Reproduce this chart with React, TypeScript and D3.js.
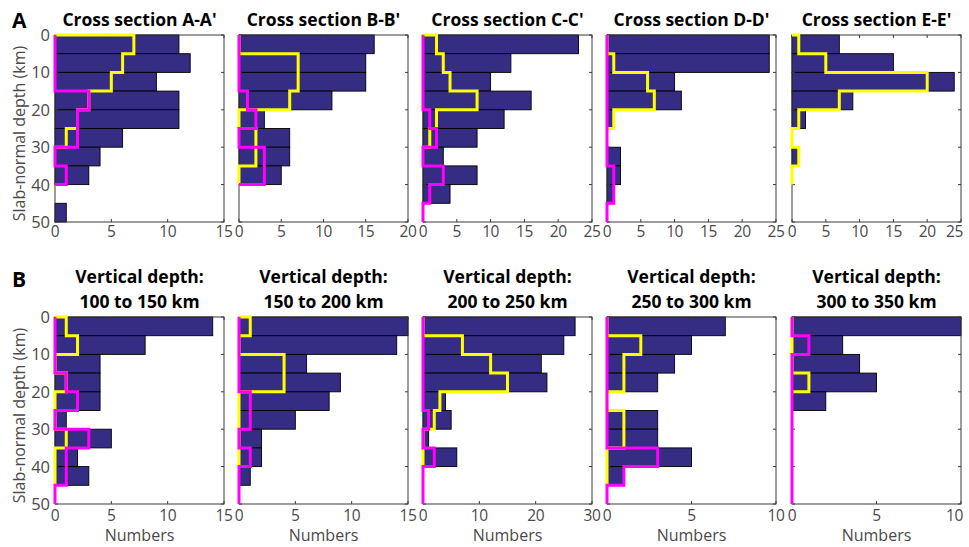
import React from "react";
import * as d3 from "d3";

// ---------- data (counts per 5 km slab-normal depth bin, 0–50 km) ----------
const binEdges = [0, 5, 10, 15, 20, 25, 30, 35, 40, 45, 50];
const depthTicks = [0, 10, 20, 30, 40, 50];

const titlesRow1 = ["Cross section A-A'", "Cross section B-B'", "Cross section C-C'", "Cross section D-D'", "Cross section E-E'"];
const titlesRow2 = ["100 to 150 km", "150 to 200 km", "200 to 250 km", "250 to 300 km", "300 to 350 km"];

const barsAA = [11, 12, 9, 11, 11, 6, 4, 3, 0, 1];
const yellowAA = [7, 6, 5, 3, 2, 1];
const magentaAA = [0, 0, 0, 3, 2, 2, 0, 1];

const barsBB = [16, 15, 15, 11, 3, 6, 6, 5, 0, 0];
const yellowBB = [0, 7, 7, 6, 0, 2, 2, 0];
const magentaBB = [0, 0, 0, 1, 2, 0, 3, 3];

const barsCC = [23, 13, 10, 16, 12, 8, 3, 8, 4, 0];
const yellowCC = [2, 3, 4, 8, 2, 1];
const magentaCC = [0, 0, 0, 0, 1, 2, 0, 3, 1, 0];

const barsDD = [24, 24, 10, 11, 1, 0, 2, 2, 1, 0];
const yellowDD = [0, 1, 6, 7, 1];
const magentaDD = [0, 0, 0, 0, 0, 0, 0, 1, 1, 0];

const barsEE = [7, 15, 24, 9, 2, 0, 1, 0, 0, 0];
const yellowEE = [1, 5, 20, 7, 1, 0, 1, 0];
const magentaEE: number[] = [];

const bars100 = [14, 8, 4, 4, 4, 1, 5, 2, 3, 0];
const yellow100 = [1, 2, 0, 1, 0, 0, 1, 0, 0];
const magenta100 = [0, 0, 0, 1, 2, 0, 3, 1, 1, 0];

const bars150 = [15, 14, 6, 9, 8, 5, 2, 2, 1, 0];
const yellow150 = [1, 0, 4, 4, 0, 0, 0, 0];
const magenta150 = [0, 0, 0, 0, 1, 1, 0, 1, 0, 0];

const bars200 = [27, 25, 21, 22, 4, 5, 1, 6, 0, 0];
const yellow200 = [0, 7, 12, 15, 3, 2, 0, 0];
const magenta200 = [0, 0, 0, 0, 0, 1, 0, 2, 0, 0];

const bars250 = [7, 5, 4, 3, 0, 3, 3, 5, 1, 0];
const yellow250 = [0, 2, 1, 1, 0, 1, 1, 0, 0];
const magenta250 = [0, 0, 0, 0, 0, 0, 0, 3, 1, 0];

const bars300 = [10, 3, 4, 5, 2, 0, 0, 0, 0, 0];
const yellow300 = [0, 0, 0, 1];
const magenta300 = [0, 1, 0, 0, 0, 0, 0, 0, 0, 0];

const xMaxRow1 = [15, 20, 25, 25, 25];
const xMaxRow2 = [15, 15, 30, 10, 10];
const xTicksRow1 = [[0, 5, 10, 15], [0, 5, 10, 15, 20], [0, 5, 10, 15, 20, 25], [0, 5, 10, 15, 20, 25], [0, 5, 10, 15, 20, 25]];
const xTicksRow2 = [[0, 5, 10, 15], [0, 5, 10, 15], [0, 10, 20, 30], [0, 5, 10], [0, 5, 10]];

const barsRow1 = [barsAA, barsBB, barsCC, barsDD, barsEE];
const yellowRow1 = [yellowAA, yellowBB, yellowCC, yellowDD, yellowEE];
const magentaRow1 = [magentaAA, magentaBB, magentaCC, magentaDD, magentaEE];
const barsRow2 = [bars100, bars150, bars200, bars250, bars300];
const yellowRow2 = [yellow100, yellow150, yellow200, yellow250, yellow300];
const magentaRow2 = [magenta100, magenta150, magenta200, magenta250, magenta300];

// ---------- layout ----------
const W = 969;
const H = 547;
const colLefts = [55, 239, 423, 607, 792];
const panelW = 169;
const rowTops = [35, 317];
const rowBottoms = [222, 504];
const tickLabelOffset = [15, 17];

const FONT = "'Open Sans', 'DejaVu Sans', sans-serif";
const BAR = "#352d83";
const YEL = "#ffff00";
const MAG = "#ff00ff";
const AXIS = "#3a3a3a";
const LABEL = "#4a4a4a";
const TICK_FS = 15.5;

function stairs(values: number[], x: d3.ScaleLinear<number, number>, y: d3.ScaleLinear<number, number>) {
  if (!values.length) return null;
  const pts: [number, number][] = [[0, binEdges[0]]];
  values.forEach((v, i) => {
    pts.push([v, binEdges[i]]);
    pts.push([v, binEdges[i + 1]]);
  });
  pts.push([0, binEdges[values.length]]);
  return d3.line<[number, number]>().x((d) => x(d[0])).y((d) => y(d[1]))(pts);
}

function Panel(props: {
  left: number; top: number; bottom: number; xMax: number; xTicks: number[]; labelOff: number;
  bars: number[]; yellow: number[]; magenta: number[]; showY: boolean; xLabel: boolean; lastCol: boolean;
}) {
  const { left, top, bottom, xMax, xTicks, labelOff, bars, yellow, magenta, showY, xLabel, lastCol } = props;
  const x = d3.scaleLinear().domain([0, xMax]).range([left, left + panelW]);
  const y = d3.scaleLinear().domain([0, 50]).range([top, bottom]);
  const tk = 3;
  return (
    <g>
      <rect x={left} y={top} width={panelW} height={bottom - top} fill="#fff" />
      {bars.map((v, i) =>
        v > 0 ? (
          <rect key={i} x={x(0)} y={y(binEdges[i])} width={x(v) - x(0)} height={y(binEdges[i + 1]) - y(binEdges[i])}
            fill={BAR} stroke="#000" strokeWidth={0.9} />
        ) : null
      )}
      <rect x={left} y={top} width={panelW} height={bottom - top} fill="none" stroke={AXIS} strokeWidth={1} />
      {xTicks.map((t, j) => {
        const isEdge = lastCol && j === xTicks.length - 1;
        return (
          <g key={"xt" + t}>
            <line x1={x(t)} x2={x(t)} y1={bottom} y2={bottom - tk} stroke={AXIS} />
            <line x1={x(t)} x2={x(t)} y1={top} y2={top + tk} stroke={AXIS} />
            <text x={isEdge ? x(t) + 2 : x(t)} y={bottom + labelOff} textAnchor={isEdge ? "end" : "middle"}
              fontSize={TICK_FS} letterSpacing={-0.4} fill={LABEL} fontFamily={FONT}>{t}</text>
          </g>
        );
      })}
      {depthTicks.map((t) => (
        <g key={"yt" + t}>
          <line x1={left} x2={left + tk} y1={y(t)} y2={y(t)} stroke={AXIS} />
          <line x1={left + panelW} x2={left + panelW - tk} y1={y(t)} y2={y(t)} stroke={AXIS} />
          {showY ? (
            <text x={left - 5} y={y(t)} dy="0.36em" textAnchor="end" fontSize={16.5} fill={LABEL} fontFamily={FONT}>{t}</text>
          ) : null}
        </g>
      ))}
      <path d={stairs(yellow, x, y) || ""} fill="none" stroke={YEL} strokeWidth={3} strokeLinejoin="miter" />
      <path d={stairs(magenta, x, y) || ""} fill="none" stroke={MAG} strokeWidth={3} strokeLinejoin="miter" />
      {xLabel ? (
        <text x={left + panelW / 2} y={541} textAnchor="middle" fontSize={16} fill={LABEL} fontFamily={FONT}>Numbers</text>
      ) : null}
    </g>
  );
}

export default function App() {
  return (
    <svg width={W} height={H} style={{ position: "absolute", left: 0, top: 0, background: "#fff" }}>
      <rect width={W} height={H} fill="#fff" />
      {/* Row A */}
      <text x={12} y={28} fontSize={21} fontWeight="bold" fontFamily={FONT} fill="#000">A</text>
      {colLefts.map((l, i) => (
        <g key={"r1" + i}>
          <text x={l + panelW / 2} y={26} textAnchor="middle" fontSize={17.5} fontWeight="bold" fontFamily={FONT} fill="#000">{titlesRow1[i]}</text>
          <Panel left={l} top={rowTops[0]} bottom={rowBottoms[0]} xMax={xMaxRow1[i]} xTicks={xTicksRow1[i]} labelOff={tickLabelOffset[0]}
            bars={barsRow1[i]} yellow={yellowRow1[i]} magenta={magentaRow1[i]} showY={i === 0} xLabel={false} lastCol={i === 4} />
        </g>
      ))}
      <text transform={`translate(25,${(rowTops[0] + rowBottoms[0]) / 2 + 5}) rotate(-90)`} textAnchor="middle" fontSize={16} fill={LABEL} fontFamily={FONT}>Slab-normal depth (km)</text>
      {/* Row B */}
      <text x={12} y={287} fontSize={21} fontWeight="bold" fontFamily={FONT} fill="#000">B</text>
      {colLefts.map((l, i) => (
        <g key={"r2" + i}>
          <text x={l + panelW / 2} y={283} textAnchor="middle" fontSize={17.5} fontWeight="bold" fontFamily={FONT} fill="#000">Vertical depth:</text>
          <text x={l + panelW / 2} y={308} textAnchor="middle" fontSize={17.5} fontWeight="bold" fontFamily={FONT} fill="#000">{titlesRow2[i]}</text>
          <Panel left={l} top={rowTops[1]} bottom={rowBottoms[1]} xMax={xMaxRow2[i]} xTicks={xTicksRow2[i]} labelOff={tickLabelOffset[1]}
            bars={barsRow2[i]} yellow={yellowRow2[i]} magenta={magentaRow2[i]} showY={i === 0} xLabel={true} lastCol={i === 4} />
        </g>
      ))}
      <text transform={`translate(25,${(rowTops[1] + rowBottoms[1]) / 2 + 5}) rotate(-90)`} textAnchor="middle" fontSize={16} fill={LABEL} fontFamily={FONT}>Slab-normal depth (km)</text>
    </svg>
  );
}
